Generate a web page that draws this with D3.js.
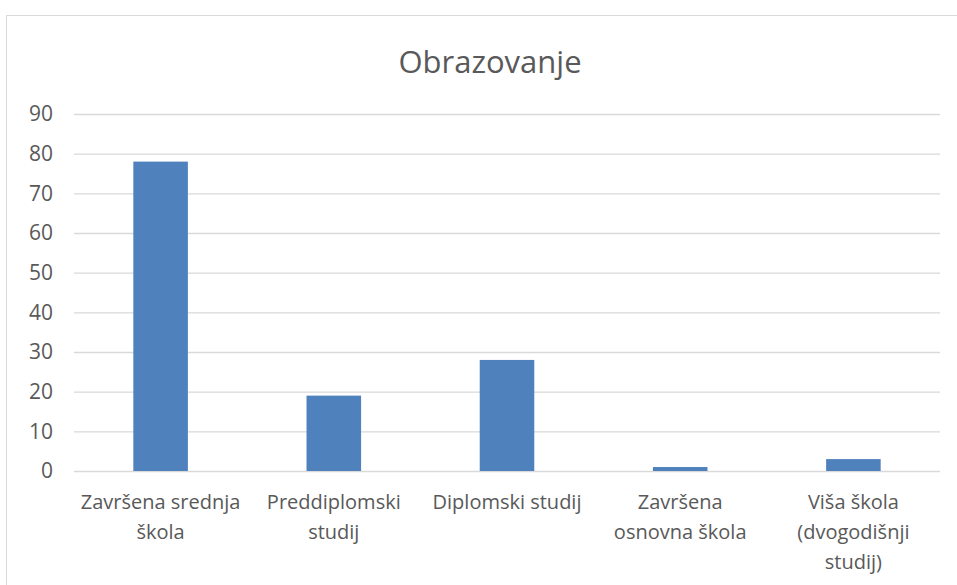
<!DOCTYPE html>
<html>
<head>
<meta charset="utf-8">
<script src="https://cdn.jsdelivr.net/npm/d3@7"></script>
<style>
  body { margin: 0; background: #fff; }
  text { font-family: "Open Sans", sans-serif; fill: #595959; }
</style>
</head>
<body>
<div id="chart"></div>
<script>
var categories = ["Završena srednja škola", "Preddiplomski studij", "Diplomski studij",
                  "Završena osnovna škola", "Viša škola (dvogodišnji studij)"];
var tickLines = [["Završena srednja", "škola"], ["Preddiplomski", "studij"], ["Diplomski studij"],
                 ["Završena", "osnovna škola"], ["Viša škola", "(dvogodišnji", "studij)"]];
var values = [78, 19, 28, 1, 3];
var yTicks = [0, 10, 20, 30, 40, 50, 60, 70, 80, 90];

var W = 957, H = 585;
var plotLeft = 74, plotRight = 940, plotTop = 114, plotBottom = 471;

var svg = d3.select("#chart")
  .append("svg")
    .attr("width", W)
    .attr("height", H);

// chart frame
svg.append("rect")
  .attr("x", 6.5).attr("y", 15.5)
  .attr("width", W + 20).attr("height", H + 20)
  .attr("fill", "none")
  .attr("stroke", "#d9d9d9");

var x = d3.scaleBand()
  .domain(categories)
  .range([plotLeft, plotRight])
  .padding(0);

var y = d3.scaleLinear()
  .domain([0, 90])
  .range([plotBottom, plotTop]);

// gridlines + y labels
var yAxis = svg.append("g")
  .attr("transform", "translate(" + plotLeft + ",0)")
  .call(d3.axisLeft(y).tickValues(yTicks).tickSize(-(plotRight - plotLeft)).tickPadding(21));
yAxis.select(".domain").remove();
yAxis.selectAll(".tick line").attr("stroke", "#d9d9d9").attr("stroke-width", 1.3);
yAxis.selectAll(".tick text")
  .style("font-size", "21px")
  .attr("fill", "#595959");

// bars
var barW = x.bandwidth() * 0.315;
svg.selectAll("rect.bar")
  .data(values)
  .enter()
  .append("rect")
    .attr("class", "bar")
    .attr("x", function(d, i) { return x(categories[i]) + (x.bandwidth() - barW) / 2; })
    .attr("y", function(d) { return y(d); })
    .attr("width", barW)
    .attr("height", function(d) { return y(0) - y(d); })
    .attr("fill", "#4f81bd");

// category labels
var xl = svg.append("g");
categories.forEach(function(c, i) {
  var t = xl.append("text")
    .attr("text-anchor", "middle")
    .attr("x", x(c) + x.bandwidth() / 2)
    .attr("y", 509)
    .style("font-size", "20px");
  tickLines[i].forEach(function(line, j) {
    t.append("tspan")
      .attr("x", x(c) + x.bandwidth() / 2)
      .attr("dy", j === 0 ? 0 : 30)
      .text(line);
  });
});

// title
svg.append("text")
  .text("Obrazovanje")
  .attr("text-anchor", "middle")
  .attr("x", 490)
  .attr("y", 73)
  .style("font-size", "31px");
</script>
</body>
</html>
